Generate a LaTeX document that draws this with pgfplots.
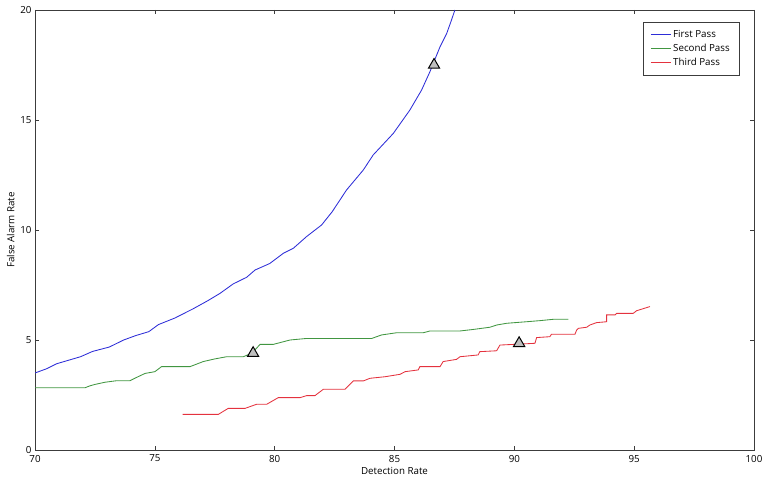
\documentclass[border=0pt]{standalone}
\usepackage{pgfplots}
\pgfplotsset{compat=1.18}
\usepackage{fontspec}
\setmainfont{Open Sans}
\definecolor{cblue}{RGB}{45,45,215}
\definecolor{cgreen}{RGB}{65,150,65}
\definecolor{cred}{RGB}{228,50,62}
\definecolor{axgray}{RGB}{60,60,60}
\begin{document}
\begin{tikzpicture}
\path[use as bounding box] (-35bp,-33bp) rectangle (730bp,450bp);
\begin{axis}[
  at={(0,0)}, anchor=south west,
  scale only axis, width=719bp, height=440bp,
  xmin=70, xmax=100, ymin=0, ymax=20,
  xtick={70,75,...,100}, ytick={0,5,...,20},
  tick align=inside, major tick length=4bp,
  xtick pos=both, ytick pos=both,
  axis line style={axgray, line width=0.9pt},
  tick style={axgray, line width=0.6pt},
  /pgf/number format/assume math mode=true,
  tick label style={font=\fontsize{9.8}{10}\selectfont, text=black},
  xticklabel style={yshift=-1.5bp},
  xlabel={Detection Rate}, ylabel={False Alarm Rate},
  label style={font=\fontsize{9.8}{10}\selectfont},
  xlabel style={yshift=2bp},
  ylabel style={yshift=-1bp},
  legend style={at={(0.979,0.973)}, anchor=north east, draw=axgray,
    font=\fontsize{9.8}{13}\selectfont, row sep=1.2bp, inner xsep=7bp, inner ysep=6bp},
  legend cell align=left,
  legend image code/.code={\draw[#1] (0cm,0cm) -- (0.7cm,0cm);},
]
\addplot[cblue, line width=0.85pt] coordinates {
(70,3.5) (70.5,3.7) (70.9,3.92) (71.4,4.08) (71.9,4.24) (72.4,4.48) (73.1,4.68) (73.7,5.0) (74.2,5.2) (74.75,5.38) (75.15,5.7) (75.84,6.0) (76.6,6.42) (77.2,6.78) (77.72,7.12) (78.27,7.55) (78.83,7.85) (79.18,8.18) (79.8,8.48) (80.36,8.94) (80.78,9.17) (81.33,9.7) (81.96,10.23) (82.4,10.83) (83.0,11.82) (83.7,12.73) (84.11,13.41) (84.95,14.39) (85.64,15.45) (86.13,16.36) (86.48,17.2) (86.9,18.33) (87.18,18.94) (87.38,19.55) (87.52,20)
};
\addlegendentry{First Pass}
\addplot[cgreen, line width=0.85pt] coordinates {
(70,2.83) (72.09,2.83) (72.3,2.92) (72.5,2.98) (72.92,3.08) (73.41,3.15) (73.96,3.15) (74.24,3.3) (74.59,3.48) (75.0,3.56) (75.28,3.79) (76.47,3.79) (77.02,4.02) (77.5,4.14) (78.0,4.24) (78.69,4.24) (79.05,4.4) (79.39,4.8) (79.94,4.8) (80.64,5.0) (81.33,5.07) (84.05,5.07) (84.46,5.23) (85.09,5.33) (86.2,5.33) (86.48,5.41) (87.73,5.41) (88.29,5.48) (88.98,5.58) (89.26,5.68) (89.68,5.76) (90.51,5.83) (91.07,5.88) (91.62,5.94) (92.25,5.94)
};
\addlegendentry{Second Pass}
\addplot[cred, line width=0.85pt] coordinates {
(76.16,1.62) (77.65,1.62) (78.06,1.89) (78.76,1.89) (79.25,2.08) (79.67,2.08) (80.15,2.38) (81.06,2.38) (81.33,2.47) (81.68,2.47) (82.03,2.76) (82.93,2.76) (83.28,3.14) (83.7,3.14) (83.98,3.26) (84.6,3.33) (85.23,3.44) (85.44,3.56) (85.99,3.64) (86.06,3.79) (86.9,3.79) (87.03,4.02) (87.59,4.12) (87.73,4.24) (88.49,4.32) (88.56,4.47) (89.26,4.51) (89.4,4.77) (90.51,4.83) (90.86,4.85) (90.93,5.11) (91.48,5.15) (91.55,5.26) (92.53,5.26) (92.6,5.45) (92.67,5.53) (93.02,5.58) (93.15,5.68) (93.43,5.79) (93.85,5.83) (93.85,6.14) (94.2,6.14) (94.27,6.21) (94.96,6.21) (95.1,6.33) (95.66,6.52)
};
\addlegendentry{Third Pass}
\addplot[only marks, mark=triangle*, mark size=6.5pt,
  mark options={fill=black!25, draw=black, line width=1pt}, forget plot]
  coordinates {(86.65,17.5) (79.1,4.4) (90.2,4.85)};
\end{axis}
\end{tikzpicture}
\end{document}
